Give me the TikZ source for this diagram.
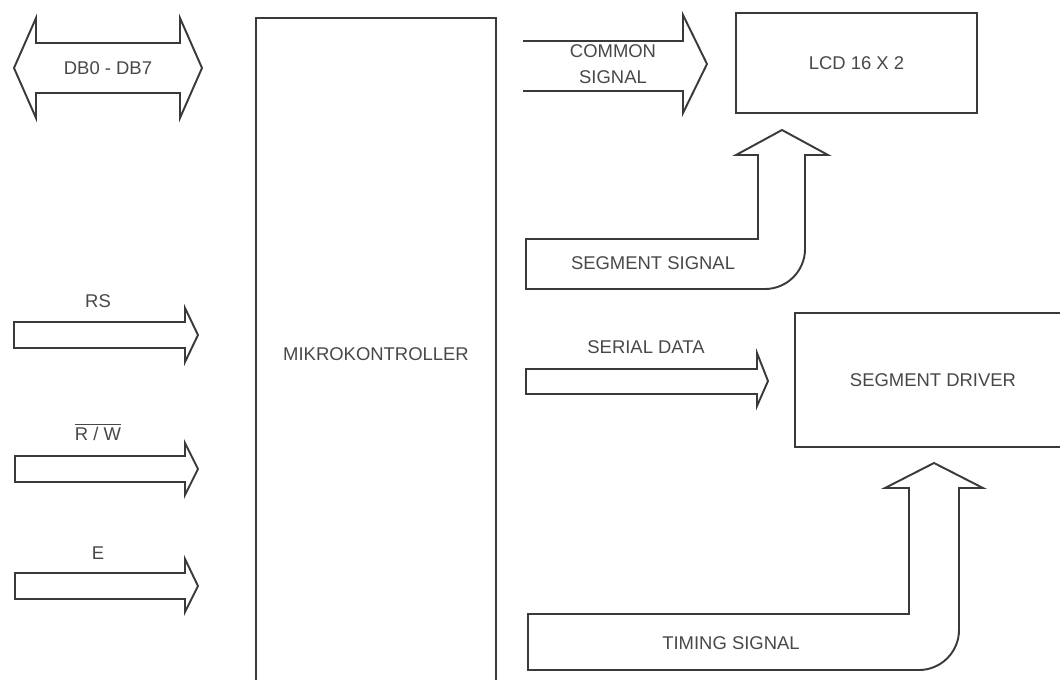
\documentclass[tikz,border=0pt]{standalone}
\usepackage{fontspec}
\setmainfont{Liberation Sans}
\usepackage{tikz}
\definecolor{inkA}{RGB}{58,58,58}
\definecolor{inkB}{RGB}{72,72,72}

\begin{document}
\begin{tikzpicture}[
  x=0.02cm, y=-0.02cm,
  blk/.style={rectangle, draw=inkA, line width=1.1pt, fill=white,
    inner sep=0pt, font=\fontsize{10.5}{15}\selectfont, text=inkB},
  barrow/.style={draw=inkA, line width=1.1pt, line join=miter},
  lbl/.style={font=\fontsize{10.5}{15}\selectfont, text=inkB, align=center, inner sep=0pt},
]
  \useasboundingbox (0,0) rectangle (1060,679);

  % blocks
  \node[blk, minimum width=4.8cm, minimum height=13.44cm] (mk) at (376,354) {MIKROKONTROLLER};
  \node[blk, minimum width=4.82cm, minimum height=2cm] (lcd) at (856.5,63) {LCD 16 X 2};
  \node[blk, minimum width=5.52cm, minimum height=2.68cm] (drv) at (933,380) {SEGMENT DRIVER};

  % left side bus and control lines
  \draw[barrow] (14,68) -- (36,18) -- (36,43) -- (180,43) -- (180,18) -- (202,68)
    -- (180,118) -- (180,93) -- (36,93) -- (36,118) -- cycle;
  \node[lbl] (db) at (108,68) {DB0 - DB7};

  \draw[barrow] (14,322) -- (185,322) -- (185,308) -- (198,335) -- (185,362) -- (185,348) -- (14,348) -- cycle;
  \node[lbl] (rs) at (98,301) {RS};

  \draw[barrow] (15,456) -- (185,456) -- (185,443) -- (198,469) -- (185,495) -- (185,482) -- (15,482) -- cycle;
  \node[lbl] (rw) at (98,432) {$\overline{\mbox{R / W}}$};

  \draw[barrow] (15,573) -- (185,573) -- (185,559) -- (198,586) -- (185,612) -- (185,599) -- (15,599) -- cycle;
  \node[lbl] (en) at (98,553) {E};

  % right side signals
  \draw[barrow] (523,41) -- (683,41) -- (683,15) -- (707,64) -- (683,113) -- (683,91) -- (523,91);
  \node[lbl] (com) at (613,64) {COMMON\\SIGNAL};

  \draw[barrow] (526,239) -- (758,239) -- (758,155) -- (736,155) -- (782,130) -- (828,155) -- (805,155)
    -- (805,249) .. controls (805,271) and (787,289) .. (765,289) -- (526,289) -- cycle;
  \node[lbl] (seg) at (653,263) {SEGMENT SIGNAL};

  \draw[barrow] (526,369) -- (757,369) -- (757,353) -- (768,381) -- (757,406) -- (757,394) -- (526,394) -- cycle;
  \node[lbl] (ser) at (646,347) {SERIAL DATA};

  \draw[barrow] (528,614) -- (909,614) -- (909,488) -- (885,488) -- (934,463) -- (983,488) -- (959,488)
    -- (959,630) .. controls (959,652) and (941,670) .. (919,670) -- (528,670) -- cycle;
  \node[lbl] (tim) at (731,643) {TIMING SIGNAL};
\end{tikzpicture}
\end{document}
